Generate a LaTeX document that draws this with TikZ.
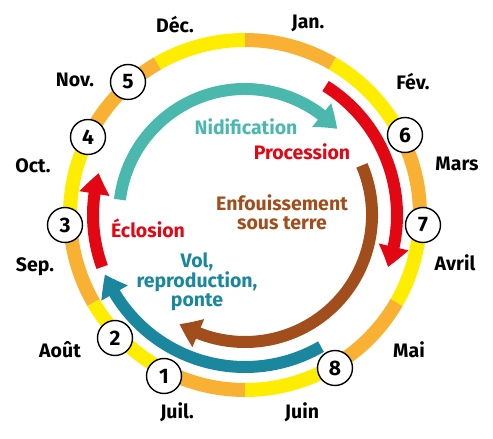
\documentclass[tikz,border=0pt]{standalone}
\usepackage{fontspec}
\setmainfont{Fira Sans}
\usetikzlibrary{arrows.meta,bending}
\definecolor{ringY}{HTML}{FFED00}
\definecolor{ringO}{HTML}{F8B133}
\definecolor{redA}{HTML}{E30613}
\definecolor{tealA}{HTML}{4BB8AE}
\definecolor{blueA}{HTML}{1A879E}
\definecolor{brownA}{HTML}{A24E1C}
\begin{document}
\begin{tikzpicture}[x=1pt,y=1pt,
  seg/.style={line width=14pt},
  cyc/.style={line width=12pt,-{Triangle[width=29pt,length=21pt,bend]}},
  num/.style={circle,draw=black,line width=1.4pt,fill=white,minimum size=35pt,inner sep=0pt,font=\bfseries\fontsize{21}{21}\selectfont},
  month/.style={font=\bfseries\fontsize{19.5}{19.5}\selectfont,text=black},
  lab/.style={font=\bfseries\fontsize{19.5}{19}\selectfont,align=center}]
\path[use as bounding box] (-245,-224) rectangle (248,215);
% ring
\foreach \s/\c in {90/ringO,60/ringY,30/ringO,0/ringY,-30/ringO,-60/ringY,-90/ringO,-120/ringY,-150/ringO,-180/ringY,-210/ringO,-240/ringY}
  \draw[seg,\c] (\s:175pt) arc[start angle=\s, end angle=\s-30, radius=175pt];
% cycle arrows
\draw[cyc,tealA] (173:126pt) arc[start angle=173, end angle=43, radius=126pt];
\draw[cyc,redA] (58:152pt) arc[start angle=58, end angle=-20, radius=152pt];
\draw[cyc,redA] (200:152pt) arc[start angle=200, end angle=164, radius=152pt];
\draw[cyc,brownA] (23:127pt) arc[start angle=23, end angle=-121, radius=127pt];
\draw[cyc,blueA] (-60:152pt) arc[start angle=-60, end angle=-157, radius=152pt];
% numbered circles
\node[num] (c1) at (-81,-161) {1};
\node[num] (c2) at (-130,-123) {2};
\node[num] (c3) at (-180,-10) {3};
\node[num] (c4) at (-157,78) {4};
\node[num] (c5) at (-117,133) {5};
\node[num] (c6) at (160,80) {6};
\node[num] (c7) at (178,-10) {7};
\node[num] (c8) at (90,-153) {8};
% months
\node[month] (mdec) at (-70,190) {Déc.};
\node[month] (mjan) at (63,192) {Jan.};
\node[month] (mfev) at (168,133) {Fév.};
\node[month] (mmar) at (212,51) {Mars};
\node[month] (mavr) at (210,-48) {Avril};
\node[month] (mmai) at (164,-135) {Mai};
\node[month] (mjuin) at (57,-197) {Juin};
\node[month] (mjuil) at (-68,-197) {Juil.};
\node[month] (maout) at (-185,-135) {Août};
\node[month] (msep) at (-210,-52) {Sep.};
\node[month] (moct) at (-212,49) {Oct.};
\node[month] (mnov) at (-170,135) {Nov.};
% phase labels
\node[lab,text=tealA] (lnid) at (1,88) {Nidification};
\node[lab,text=redA] (lpro) at (57,63) {Procession};
\node[lab,text=brownA] (lenf) at (37,3) {Enfouissement\\sous terre};
\node[lab,text=redA] (lecl) at (-97,-13) {Éclosion};
\node[lab,text=blueA] (lvol) at (-48,-67) {Vol,\\reproduction,\\ponte};
\end{tikzpicture}
\end{document}
